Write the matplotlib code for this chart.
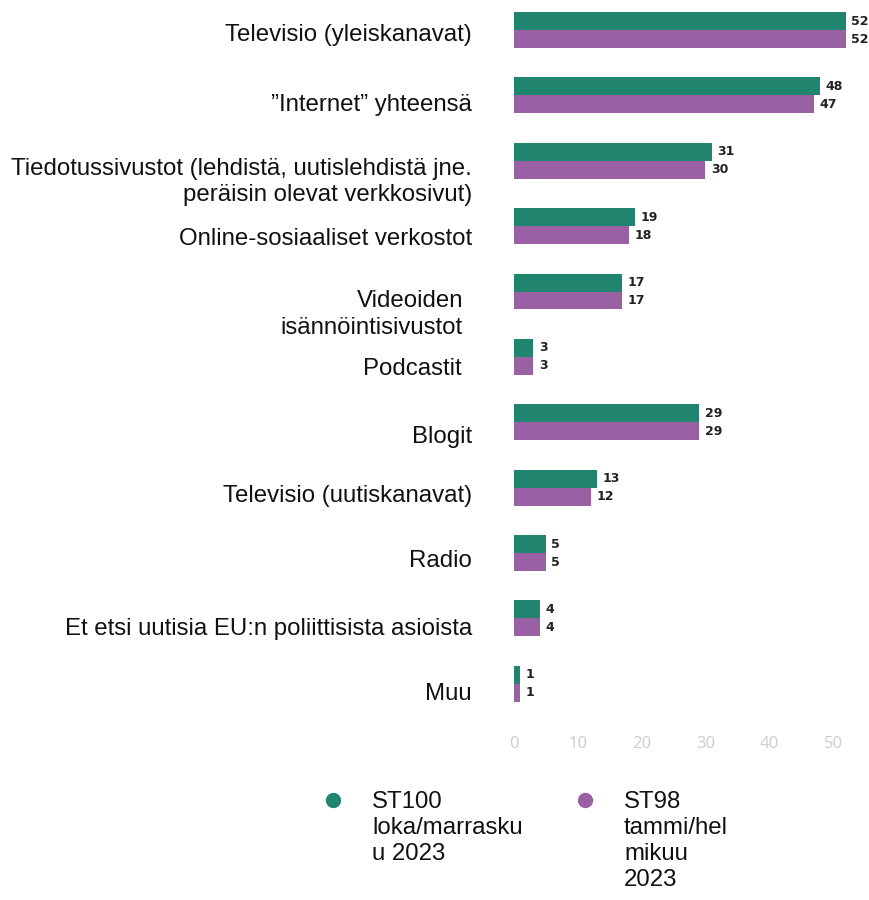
import matplotlib
matplotlib.use("Agg")
import matplotlib.pyplot as plt
from matplotlib.lines import Line2D
from matplotlib.transforms import ScaledTranslation, blended_transform_factory
import numpy as np

categories = [
    "Televisio (yleiskanavat)",
    "\u201dInternet\u201d yhteensä",
    "Tiedotussivustot (lehdistä, uutislehdistä jne.\nperäisin olevat verkkosivut)",
    "Online-sosiaaliset verkostot",
    "Videoiden\nisännöintisivustot",
    "Podcastit",
    "Blogit",
    "Televisio (uutiskanavat)",
    "Radio",
    "Et etsi uutisia EU:n poliittisista asioista",
    "Muu",
]
st100 = [52, 48, 31, 19, 17, 3, 29, 13, 5, 4, 1]
st98 = [52, 47, 30, 18, 17, 3, 29, 12, 5, 4, 1]
series_labels = ["ST100\nloka/marrasku\nu 2023", "ST98\ntammi/hel\nmikuu\n2023"]
xticks = [0, 10, 20, 30, 40, 50]

# layout tweaks for category label placement (pixels)
label_dy = [5, 10, 21, 13, 23, 12, 15, 8, 8, 11, 10]
label_dx = [0, 0, 0, 0, -9, -10, 0, 0, 0, 0, 0]

green = "#21846f"
purple = "#9960a3"

plt.rcParams["font.family"] = ["Liberation Sans", "DejaVu Sans"]

dpi = 100
fig = plt.figure(figsize=(8.7, 9.0), dpi=dpi)
ax = fig.add_axes([514 / 870, 1 - 723 / 900, 351 / 870, 722.4 / 900])

y = np.arange(len(categories))
h = 0.275
ax.barh(y - h / 2, st100, height=h, color=green)
ax.barh(y + h / 2, st98, height=h, color=purple)
ax.set_xlim(0, 55)
ax.set_ylim(10.6, -0.45)

for i in range(len(categories)):
    for vals, off in ((st100, -h / 2), (st98, h / 2)):
        ax.annotate(str(vals[i]), (vals[i], y[i] + off), xytext=(4, 0),
                    textcoords="offset points", va="center", ha="left",
                    fontsize=9, fontweight="bold", color="#222222",
                    family=["DejaVu Sans"])

ax.set_yticks([])
ax.set_xticks(xticks)
ax.set_xticklabels([str(t) for t in xticks], color="#cccccc", fontsize=12,
                   family=["Open Sans", "DejaVu Sans"])
ax.tick_params(axis="x", length=0, pad=9)
for s in ax.spines.values():
    s.set_visible(False)

trans_base = blended_transform_factory(fig.transFigure, ax.transData)
for i, lab in enumerate(categories):
    t = trans_base + ScaledTranslation(label_dx[i] / dpi, -label_dy[i] / dpi, fig.dpi_scale_trans)
    ax.text(472 / 870, y[i], lab, transform=t, ha="right", va="center",
            fontsize=17.3, multialignment="right", linespacing=1.24, color="#111111")

# legend (manual)
leg_x = [333 / 870, 585 / 870]
text_x = [372 / 870, 624 / 870]
for k, (c, lab) in enumerate(zip([green, purple], series_labels)):
    fig.add_artist(Line2D([leg_x[k]], [1 - 800 / 900], marker="o", markersize=10,
                          color=c, linestyle="", transform=fig.transFigure))
    fig.text(text_x[k], 1 - 791 / 900, lab, ha="left", va="top", fontsize=17.3,
             linespacing=1.24, color="#111111")

fig.savefig("out.png", dpi=dpi)
